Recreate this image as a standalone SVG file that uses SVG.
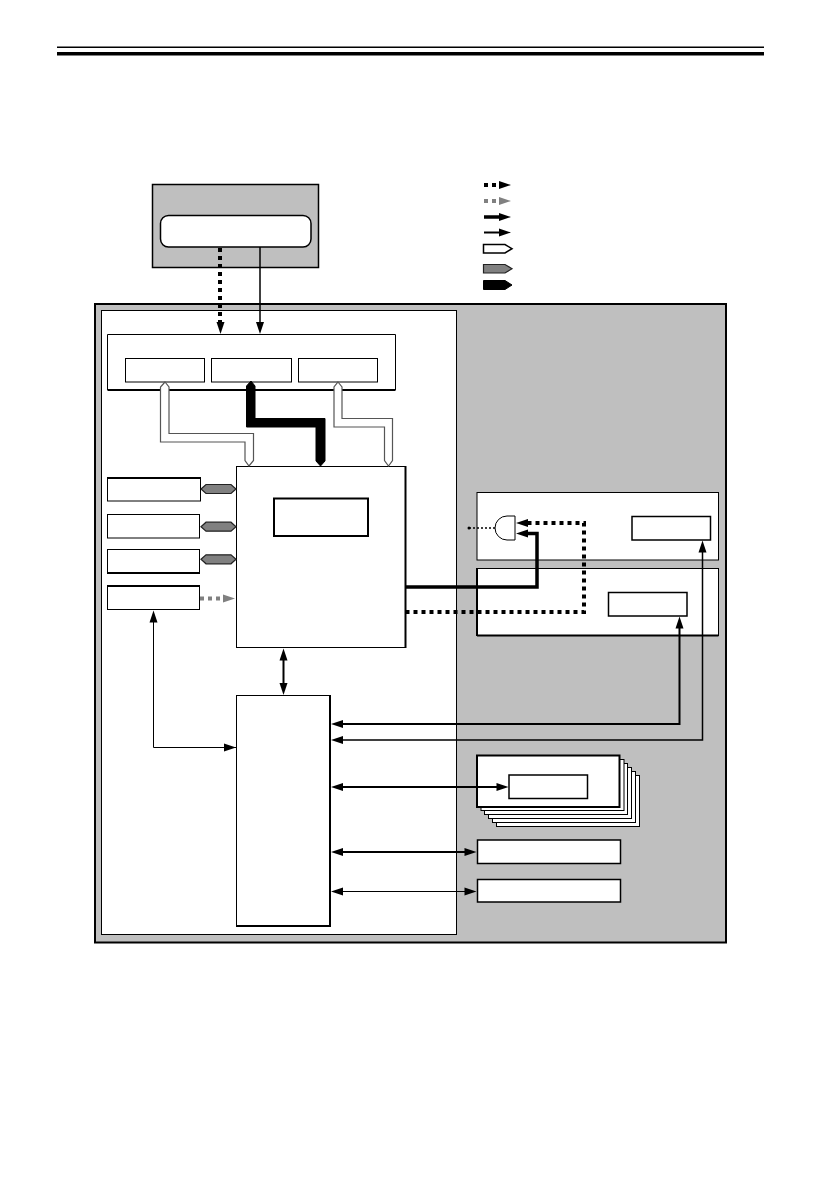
<svg xmlns="http://www.w3.org/2000/svg" width="840" height="1190" viewBox="0 0 840 1190">
<style>
.w{fill:#fff;stroke:#000;stroke-width:1.5}
.n{fill:#fff;stroke:#000;stroke-width:1}
.t{fill:#fff;stroke:#000;stroke-width:2}
.g{fill:#bfbfbf;stroke:#000;stroke-width:1.5}
.l{fill:none;stroke:#000;stroke-width:1}
.p{fill:none;stroke:#000;stroke-width:1.5}
.m{fill:none;stroke:#000;stroke-width:2}
.h{fill:none;stroke:#000;stroke-width:3.5}
.dk{fill:none;stroke:#000;stroke-width:4;stroke-dasharray:4 4}
.dg{fill:none;stroke:#808080;stroke-width:4;stroke-dasharray:4 4}
.bw{fill:#fff;stroke:#555;stroke-width:1.2}
.bg{fill:#808080;stroke:#222;stroke-width:1.2}
.bk{fill:#000;stroke:#000;stroke-width:1}
.a{fill:#000}
.ag{fill:#808080}
</style>
<defs>
<path id="r" d="M0 0L-12 -4L-12 4Z"/>
</defs>
<g id="header">
<rect x="57" y="46.500" width="707" height="1.500" fill="#000"/>
<rect x="57" y="52" width="707" height="3.500" fill="#000"/>
</g>
<g id="external">
<rect class="g" x="152.500" y="184.500" width="166" height="83"/>
<rect class="w" x="160.500" y="215.500" width="150.500" height="31.500" rx="8"/>
</g>
<g id="legend">
<path class="dk" d="M484 185H497"/><use href="#r" class="a" x="511" y="185"/>
<path class="dg" d="M484 201H497"/><use href="#r" class="ag" x="511" y="201"/>
<path class="h" d="M484 217H500"/><use href="#r" class="a" x="511" y="217"/>
<path class="m" d="M484 232.500H500"/><use href="#r" class="a" x="511" y="232.500"/>
<path class="w" d="M483.500 244.500H505L512 248.700L505 253H483.500Z"/>
<path class="bg" d="M483.500 264.500H505L512 268.700L505 273H483.500Z"/>
<path class="bk" d="M483.500 280.500H505L512 285L505 289.500H483.500Z"/>
</g>
<g id="main">
<rect class="g" x="95" y="304" width="631" height="638.500" style="stroke-width:2"/>
<rect class="n" x="101.500" y="310.500" width="355" height="624"/>
</g>
<g id="controller">
<path class="n" d="M107.500 390V334.500H395.500V390"/>
<path class="n" d="M107.500 390H395.500" style="stroke-width:2"/>
<rect class="n" x="125.500" y="358.500" width="79" height="23.500"/>
<rect class="n" x="211.500" y="358.500" width="80" height="23.500"/>
<rect class="n" x="298.500" y="358.500" width="79" height="23.500"/>
</g>
<g id="cpu">
<rect class="n" x="236.500" y="466.500" width="169" height="181"/>
<path class="m" d="M405.500 466V648"/>
<rect class="t" x="274" y="498.500" width="94" height="37.500"/>
</g>
<g id="left-boxes">
<rect class="n" x="107.500" y="478" width="93" height="23"/><path class="m" d="M107 478H201"/>
<rect class="n" x="107.500" y="514.500" width="92" height="23.500"/>
<rect class="n" x="107.500" y="549.500" width="92" height="23.500"/><path class="m" d="M107 573H200"/>
<rect class="n" x="107.500" y="586" width="92" height="23.500"/><path class="m" d="M107 586H200"/>
</g>
<g id="hub">
<rect class="n" x="236.500" y="695.500" width="93.500" height="230.500"/>
<path class="m" d="M330 695V927M236 926H330"/>
</g>
<g id="unit-a">
<rect class="n" x="477" y="492.500" width="241.500" height="67.500"/>
<rect class="w" x="632" y="516.500" width="78.500" height="23.500"/>
</g>
<g id="unit-b">
<rect class="n" x="477" y="568.500" width="241.500" height="67"/>
<path class="m" d="M477 635.500H718.500M477 568V636"/>
<rect class="w" x="608.500" y="592.500" width="78.500" height="23.500"/>
</g>
<g id="stack">
<rect class="n" x="496.500" y="775.500" width="143" height="51"/>
<rect class="n" x="492.500" y="771.500" width="143" height="51"/>
<rect class="n" x="488.500" y="767.500" width="143" height="51"/>
<rect class="n" x="484.500" y="763.500" width="143" height="51"/>
<rect class="n" x="481" y="759.500" width="143" height="51"/>
<rect class="t" x="477" y="755.500" width="142.500" height="51.500"/>
<rect class="w" x="509" y="775" width="78.500" height="23.500"/>
</g>
<g id="bottom-boxes">
<rect class="w" x="477.500" y="840" width="143" height="23.500"/>
<rect class="w" x="477.500" y="879.500" width="143" height="22.500"/>
</g>
<g id="gate">
<path d="M515 516H507A12 12 0 0 0 507 540H515Z" fill="#fff" stroke="#000" stroke-width="1"/>
<path d="M469 528H495" fill="none" stroke="#000" stroke-width="1.500" stroke-dasharray="2 2"/>
<circle cx="469" cy="528" r="1.500" class="a"/>
</g>
<g id="connectors">
<path class="dk" d="M220 248V322"/><use href="#r" class="a" transform="translate(220.500 334) rotate(90)"/>
<path class="p" d="M260 247V324"/><use href="#r" class="a" transform="translate(260 334) rotate(90)"/>
<path class="bw" d="M165 382L169 387V433.500H253.500V460.500L249 466L245 460.500V442H160.500V387Z"/>
<path class="bw" d="M338 382L342 387V418.500H392.500V460.500L388.500 466L384.500 460.500V427H334V387Z"/>
<path class="bk" d="M251 381L255 386V418.500H325V461L320.500 466L316 461V427H246.500V386Z"/>
<path class="bg" d="M201 489L206 484.500H231L236 489L231 493.500H206Z"/>
<path class="bg" d="M201 526.700L206 522.200H231L236 526.700L231 531.200H206Z"/>
<path class="bg" d="M201 559.300L206 554.800H231L236 559.300L231 563.800H206Z"/>
<path class="dg" d="M200 598.500H222"/><use href="#r" class="ag" x="235" y="598.500"/>
<path class="m" d="M283.500 658V685"/><use href="#r" class="a" transform="translate(283.500 648.500) rotate(-90)"/><use href="#r" class="a" transform="translate(283.500 695) rotate(90)"/>
<path class="l" d="M236 747.500H153.500V620"/><use href="#r" class="a" transform="translate(153.500 610.500) rotate(-90)"/><use href="#r" class="a" x="236" y="747.500"/>
<path class="h" d="M405.500 587H537V533.500H526"/><use href="#r" class="a" transform="translate(516 533.500) rotate(180)"/>
<path class="dk" d="M405.500 612H584V523H526"/><use href="#r" class="a" transform="translate(516 523) rotate(180)"/>
<path class="m" d="M679.500 626V724H340"/><use href="#r" class="a" transform="translate(679.500 616.500) rotate(-90)"/><use href="#r" class="a" transform="translate(331 724) rotate(180)"/>
<path class="p" d="M702.500 550V740H340"/><use href="#r" class="a" transform="translate(702.500 540.500) rotate(-90)"/><use href="#r" class="a" transform="translate(331 740) rotate(180)"/>
<path class="m" d="M340 787H498"/><use href="#r" class="a" transform="translate(331 787) rotate(180)"/><use href="#r" class="a" x="508.500" y="787"/>
<path class="m" d="M340 852H466"/><use href="#r" class="a" transform="translate(331 852) rotate(180)"/><use href="#r" class="a" x="476.500" y="852"/>
<path class="l" d="M340 891.500H466"/><use href="#r" class="a" transform="translate(331 891.500) rotate(180)"/><use href="#r" class="a" x="476.500" y="891.500"/>
</g>
</svg>
